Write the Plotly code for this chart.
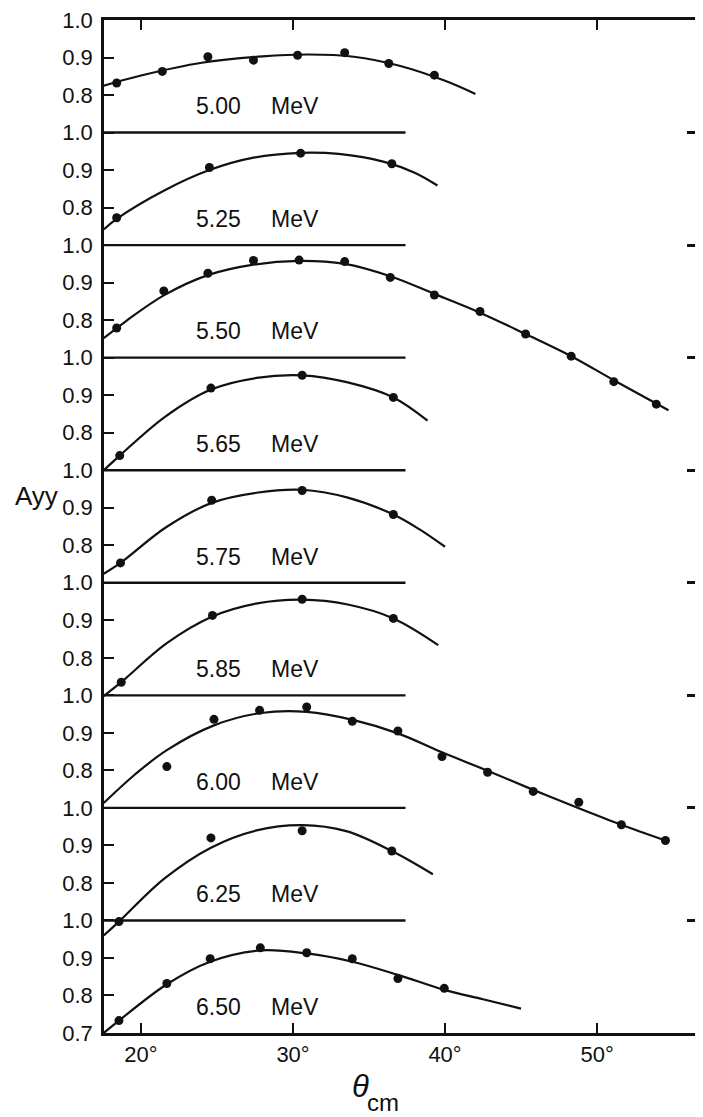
import plotly.graph_objects as go

# ---------------- data ----------------
energy_labels = ["5.00", "5.25", "5.50", "5.65", "5.75", "5.85", "6.00", "6.25", "6.50"]
unit_label = "MeV"

x_tick_vals = [20, 30, 40, 50]
x_tick_text = ["20°", "30°", "40°", "50°"]
y_tick_levels = [1.0, 0.9, 0.8]
y_tick_text = ["1.0", "0.9", "0.8"]
y_bottom_level = 0.7
y_bottom_text = "0.7"

# 5.00 MeV
theta_500 = [18.4, 21.4, 24.4, 27.4, 30.3, 33.4, 36.3, 39.3]
ayy_500 = [0.832, 0.863, 0.902, 0.893, 0.906, 0.913, 0.884, 0.853]
fit_theta_500 = [17.55, 20, 24, 28, 31, 34, 37, 40, 42]
fit_ayy_500 = [0.825, 0.852, 0.886, 0.903, 0.908, 0.902, 0.878, 0.838, 0.803]

# 5.25 MeV
theta_525 = [18.4, 24.5, 30.5, 36.5]
ayy_525 = [0.773, 0.907, 0.945, 0.917]
fit_theta_525 = [17.55, 18.4, 21.5, 24.5, 27.4, 30.5, 33.0, 36.0, 38.0, 39.5]
fit_ayy_525 = [0.742, 0.770, 0.845, 0.900, 0.933, 0.946, 0.943, 0.922, 0.893, 0.859]

# 5.50 MeV
theta_550 = [18.4, 21.5, 24.4, 27.4, 30.4, 33.4, 36.4, 39.3, 42.3, 45.3, 48.3, 51.1, 53.9]
ayy_550 = [0.779, 0.878, 0.925, 0.959, 0.960, 0.956, 0.914, 0.867, 0.823, 0.763, 0.704, 0.636, 0.576]
fit_theta_550 = [17.55, 19.0, 21.5, 24.4, 27.4, 30.4, 33.4, 36.4, 39.3, 42.3, 45.3, 48.3, 51.1, 54.7]
fit_ayy_550 = [0.752, 0.797, 0.866, 0.920, 0.948, 0.958, 0.950, 0.917, 0.870, 0.820, 0.763, 0.704, 0.640, 0.560]

# 5.65 MeV
theta_565 = [18.6, 24.6, 30.6, 36.6]
ayy_565 = [0.739, 0.919, 0.953, 0.894]
fit_theta_565 = [17.55, 18.6, 21.6, 24.6, 27.6, 30.6, 33.6, 36.6, 38.85]
fit_ayy_565 = [0.700, 0.739, 0.843, 0.915, 0.946, 0.953, 0.934, 0.894, 0.832]

# 5.75 MeV
theta_575 = [18.65, 24.65, 30.6, 36.6]
ayy_575 = [0.753, 0.920, 0.946, 0.882]
fit_theta_575 = [17.55, 18.65, 21.65, 24.65, 27.6, 30.6, 33.6, 36.6, 38.3, 40.0]
fit_ayy_575 = [0.724, 0.753, 0.848, 0.913, 0.940, 0.948, 0.927, 0.882, 0.843, 0.796]

# 5.85 MeV
theta_585 = [18.7, 24.7, 30.6, 36.6]
ayy_585 = [0.735, 0.913, 0.956, 0.905]
fit_theta_585 = [17.55, 18.7, 21.7, 24.7, 27.65, 30.6, 33.6, 36.6, 39.55]
fit_ayy_585 = [0.698, 0.735, 0.839, 0.910, 0.945, 0.955, 0.942, 0.905, 0.834]

# 6.00 MeV
theta_600 = [21.7, 24.8, 27.8, 30.9, 33.9, 36.9, 39.8, 42.8, 45.8, 48.8, 51.6, 54.5]
ayy_600 = [0.810, 0.936, 0.960, 0.969, 0.931, 0.905, 0.837, 0.795, 0.744, 0.715, 0.655, 0.613]
fit_theta_600 = [17.55, 19.6, 21.7, 24.8, 27.9, 30.9, 34.0, 36.95, 39.8, 42.8, 45.8, 48.8, 51.6, 54.5]
fit_ayy_600 = [0.713, 0.789, 0.854, 0.920, 0.953, 0.956, 0.934, 0.898, 0.848, 0.799, 0.748, 0.699, 0.655, 0.613]

# 6.25 MeV
theta_625 = [18.55, 24.6, 30.6, 36.5]
ayy_625 = [0.697, 0.920, 0.939, 0.885]
fit_theta_625 = [17.55, 18.55, 21.55, 24.6, 27.6, 30.6, 33.5, 36.5, 39.2]
fit_ayy_625 = [0.660, 0.697, 0.812, 0.894, 0.940, 0.954, 0.938, 0.885, 0.823]

# 6.50 MeV
theta_650 = [18.55, 21.7, 24.55, 27.85, 30.9, 33.9, 36.9, 39.95]
ayy_650 = [0.733, 0.832, 0.898, 0.927, 0.914, 0.898, 0.845, 0.819]
fit_theta_650 = [17.55, 18.55, 21.7, 24.55, 27.85, 30.9, 33.9, 36.9, 39.95, 42.5, 45.0]
fit_ayy_650 = [0.700, 0.733, 0.830, 0.890, 0.920, 0.912, 0.890, 0.855, 0.815, 0.790, 0.765]

# ---------------- layout constants ----------------
PANEL_SPAN = 0.3           # each panel covers 0.7 .. 1.0
LABEL_LEVEL = 0.77         # vertical position of the energy labels (local Ayy)
LABEL_X_NUM = 25.07
LABEL_X_UNIT = 30.13
DIVIDER_END = 37.4
X_RANGE = [17.566, 56.97]

points = [
    (theta_500, ayy_500), (theta_525, ayy_525), (theta_550, ayy_550),
    (theta_565, ayy_565), (theta_575, ayy_575), (theta_585, ayy_585),
    (theta_600, ayy_600), (theta_625, ayy_625), (theta_650, ayy_650),
]
fits = [
    (fit_theta_500, fit_ayy_500), (fit_theta_525, fit_ayy_525), (fit_theta_550, fit_ayy_550),
    (fit_theta_565, fit_ayy_565), (fit_theta_575, fit_ayy_575), (fit_theta_585, fit_ayy_585),
    (fit_theta_600, fit_ayy_600), (fit_theta_625, fit_ayy_625), (fit_theta_650, fit_ayy_650),
]

n = len(energy_labels)
offsets = [round(PANEL_SPAN * (n - 1 - k), 6) for k in range(n)]
Y_RANGE = [y_bottom_level, round(1.0 + offsets[0], 6)]

BLACK = "#111111"
FONT = "Liberation Sans, Arial, sans-serif"

fig = go.Figure()

annotations = []
for k in range(n):
    off = offsets[k]
    ft, fa = fits[k]
    pt, pa = points[k]
    fig.add_trace(go.Scatter(
        x=ft, y=[v + off for v in fa], mode="lines",
        line=dict(color=BLACK, width=2.2, shape="spline", smoothing=1.0),
        hoverinfo="skip", showlegend=False))
    fig.add_trace(go.Scatter(
        x=pt, y=[v + off for v in pa], mode="markers",
        marker=dict(color=BLACK, size=9),
        name=energy_labels[k] + " " + unit_label, showlegend=False))
    annotations.append(dict(x=LABEL_X_NUM, y=LABEL_LEVEL + off, xref="x", yref="y",
                            xanchor="center", yanchor="middle",
                            text=energy_labels[k], showarrow=False,
                            font=dict(family=FONT, size=23, color=BLACK)))
    annotations.append(dict(x=LABEL_X_UNIT, y=LABEL_LEVEL + off, xref="x", yref="y",
                            xanchor="center", yanchor="middle",
                            text=unit_label, showarrow=False,
                            font=dict(family=FONT, size=23, color=BLACK)))

# panel divider lines (the 1.0 level of each lower panel)
div_x, div_y = [], []
for k in range(1, n):
    yv = round(1.0 + offsets[k], 6)
    div_x += [X_RANGE[0], DIVIDER_END, None]
    div_y += [yv, yv, None]
fig.add_trace(go.Scatter(x=div_x, y=div_y, mode="lines", yaxis="y2",
                         line=dict(color=BLACK, width=2.4),
                         hoverinfo="skip", showlegend=False))

# y ticks
tickvals, ticktext = [], []
major_vals, minor_vals = [], []
for k in range(n):
    for lev, txt in zip(y_tick_levels, y_tick_text):
        val = round(lev + offsets[k], 6)
        tickvals.append(val)
        ticktext.append(txt)
        if lev == 1.0:
            major_vals.append(val)
        else:
            minor_vals.append(val)
tickvals.append(y_bottom_level)
ticktext.append(y_bottom_text)

# axis titles
annotations.append(dict(x=-0.112, y=2.13, xref="paper", yref="y", text="Ayy",
                        xanchor="center", yanchor="middle",
                        showarrow=False, font=dict(family=FONT, size=26, color=BLACK)))
annotations.append(dict(x=0.4284, y=-0.0531, xref="paper", yref="paper", text="<i>θ</i>",
                        xanchor="center", yanchor="middle",
                        showarrow=False, font=dict(family=FONT, size=31, color=BLACK)))
annotations.append(dict(x=0.4658, y=-0.0689, xref="paper", yref="paper", text="cm",
                        xanchor="center", yanchor="middle",
                        showarrow=False, font=dict(family=FONT, size=24, color=BLACK)))

# The page body has an 8 px margin, so the figure is 8 px smaller on the left/top.
fig.update_layout(
    width=695, height=1109,
    margin=dict(l=96, r=0, t=12, b=84),
    paper_bgcolor="white", plot_bgcolor="white",
    font=dict(family=FONT, color=BLACK),
    annotations=annotations,
    xaxis=dict(range=X_RANGE, tickvals=x_tick_vals, ticktext=x_tick_text,
               ticks="inside", ticklen=10, tickwidth=2, tickcolor=BLACK,
               showline=True, linewidth=2.5, linecolor=BLACK, mirror="ticks",
               showgrid=False, zeroline=False, automargin=False,
               tickfont=dict(family=FONT, size=22, color=BLACK)),
    yaxis=dict(range=Y_RANGE, tickvals=tickvals, ticktext=ticktext,
               ticks="inside", ticklen=10, tickwidth=2, tickcolor=BLACK,
               showline=True, linewidth=2.5, linecolor=BLACK,
               showgrid=False, zeroline=False, ticklabelstandoff=4, automargin=False,
               ticklabeloverflow="allow",
               tickfont=dict(family=FONT, size=22, color=BLACK)),
    yaxis2=dict(range=Y_RANGE, overlaying="y", side="right", showline=False,
                tickvals=major_vals, ticks="inside", ticklen=16, tickwidth=2.5,
                tickcolor=BLACK, showticklabels=False, showgrid=False, zeroline=False,
                automargin=False,
                minor=dict(tickvals=minor_vals, ticks="inside", ticklen=8,
                           tickwidth=2.5, tickcolor=BLACK, showgrid=False)),
)

fig.write_html("out.html")
